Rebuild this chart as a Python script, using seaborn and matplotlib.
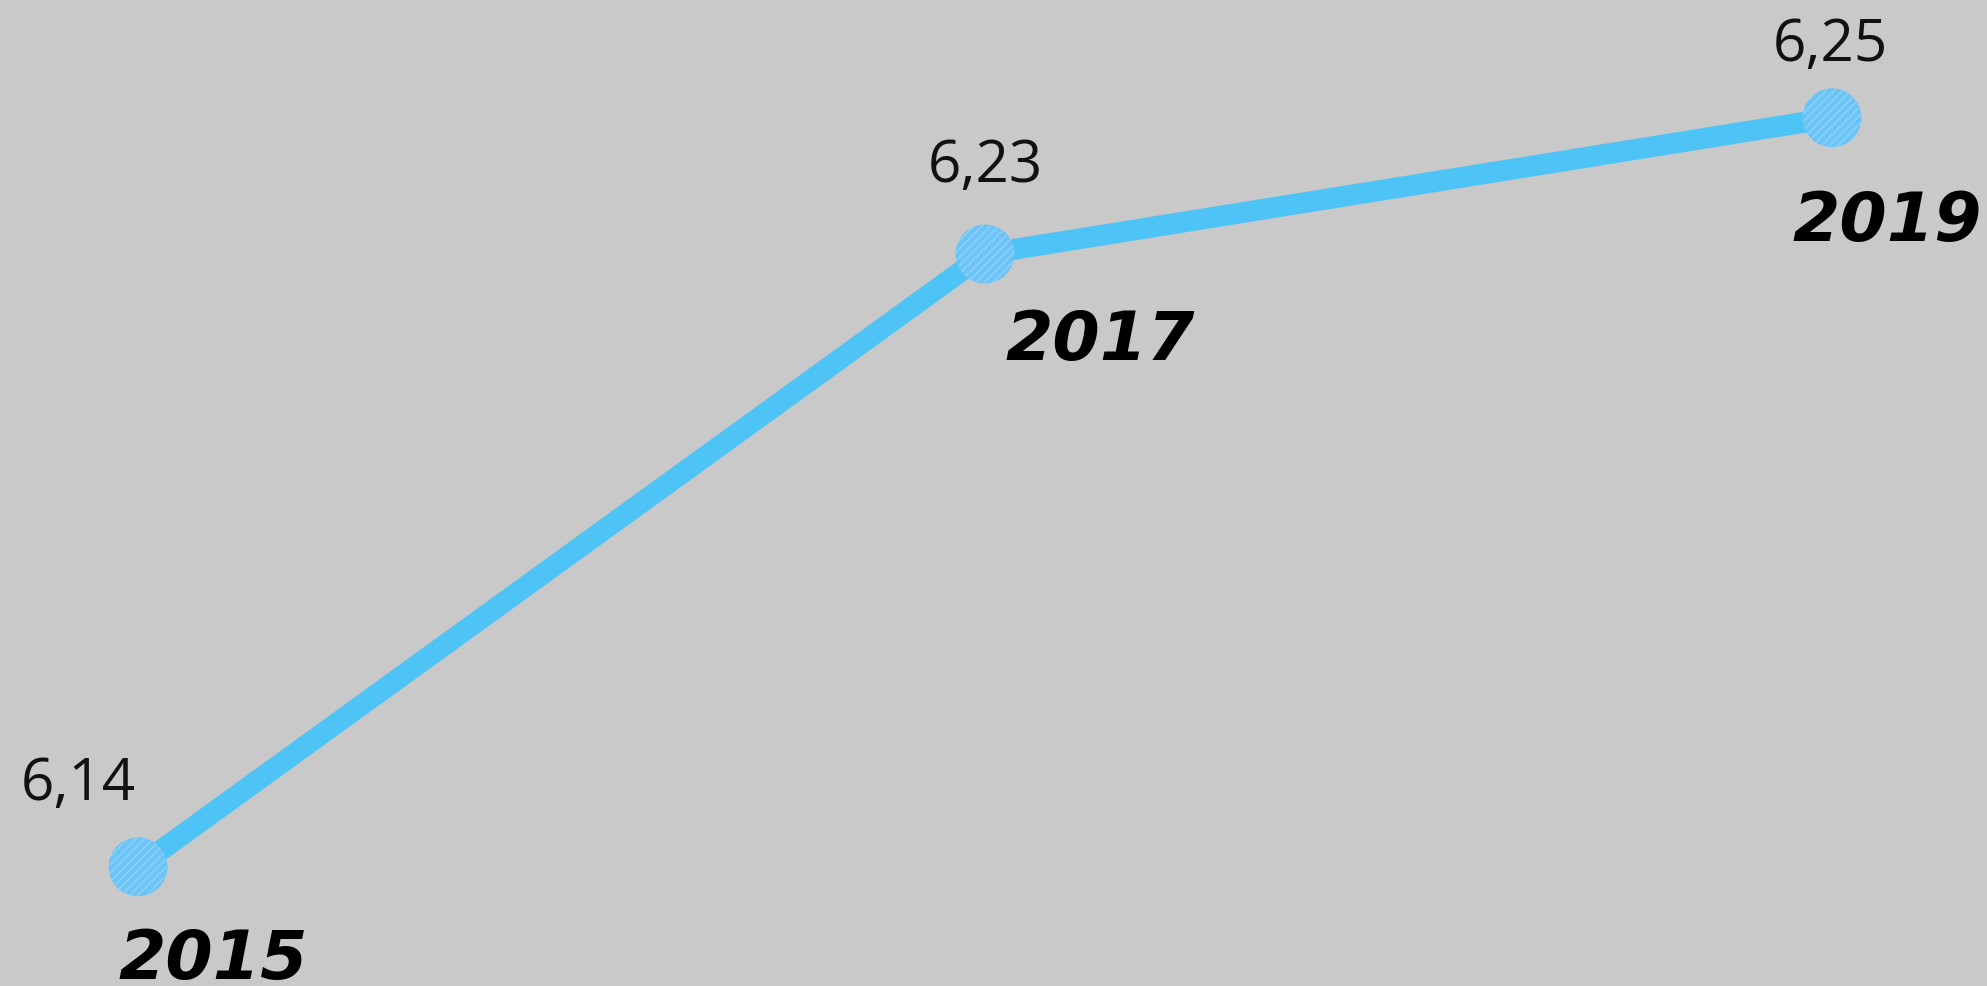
import pandas as pd
import matplotlib.pyplot as plt
import seaborn as sns

# Data
years = [2015, 2017, 2019]
values = [6.14, 6.23, 6.25]
value_labels = ['6,14', '6,23', '6,25']

LINE_BLUE = '#4ec3f5'
MARKER_BLUE = '#6cc4f6'
PAPER_GRAY = '#c9c9c9'

df = pd.DataFrame({'year': years, 'value': values})

sns.set_theme(style='white')
plt.rcParams['font.family'] = ['Open Sans', 'DejaVu Sans']

fig = plt.figure(figsize=(19.87, 9.86), dpi=100, facecolor=PAPER_GRAY)
ax = fig.add_axes([0, 0, 1, 1])
ax.set_facecolor(PAPER_GRAY)

sns.lineplot(data=df, x='year', y='value', color=LINE_BLUE, linewidth=15,
             solid_capstyle='round', ax=ax)
ax.scatter(df['year'], df['value'], s=1800, color=MARKER_BLUE,
           edgecolor='#8fd2f7', linewidth=0, hatch='////', zorder=3)

ax.set_xlim(2014.674, 2019.366)
ax.set_ylim(6.1225, 6.2673)
ax.axis('off')

# label offsets in points
value_offsets = [(-43, 59), (0, 63), (-1, 52)]
year_offsets = [(54, -67), (83, -63), (40, -75)]

for x, y, lab, off in zip(years, values, value_labels, value_offsets):
    ax.annotate(lab, (x, y), xytext=off, textcoords='offset points',
                ha='center', va='center', fontsize=42, color='#111111')

for x, y, off in zip(years, values, year_offsets):
    ax.annotate(str(x), (x, y), xytext=off, textcoords='offset points',
                ha='center', va='center', fontsize=49, fontweight='heavy',
                fontstyle='italic', color='black', family='DejaVu Sans',
                annotation_clip=False)

fig.savefig('out.png', dpi=100, facecolor=PAPER_GRAY)
